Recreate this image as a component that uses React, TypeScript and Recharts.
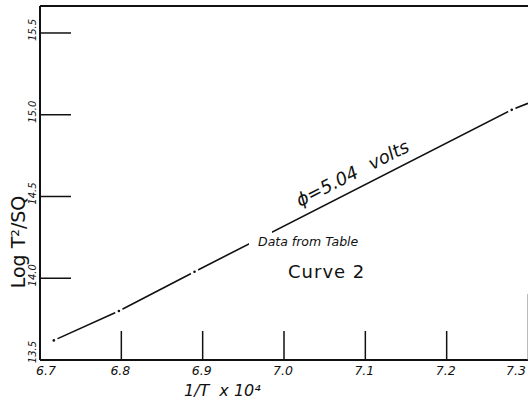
import React from "react";
import {ComposedChart, Line, ReferenceLine, XAxis, YAxis} from "recharts";

// readings (1/T x 10^4, log T^2/SQ)
const invT = [6.717, 6.797, 6.89, 7.28, 7.3];
const logVal = [13.62, 13.8, 14.04, 15.03, 15.07];
// last entry is only where the drawn line runs off the sheet
const isReading = [true, true, true, true, false];

const xTicks = [6.7, 6.8, 6.9, 7.0, 7.1, 7.2, 7.3];
const xTickLabels = ["6.7", "6.8", "6.9", "7.0", "7.1", "7.2", "7.3"];
const yTicks = [13.5, 14.0, 14.5, 15.0, 15.5];
const yTickLabels = ["13.5", "14.0", "14.5", "15.0", "15.5"];

const xDomain: [number, number] = [6.7, 7.3];
const yDomain: [number, number] = [13.5, 15.665];

const ink = "#111";
const font = "'DejaVu Sans', sans-serif";

const data = invT.map((x, i) => ({x, y: logVal[i], reading: isReading[i]}));

const XTick = (props: any) => {
  const {x, y, index} = props;
  const first = index === 0;
  const last = index === xTicks.length - 1;
  return <g>
    {!first && <line x1={x} y1={y} x2={x} y2={y - (last ? 66 : 29)} stroke={last ? "#777" : ink}
                     strokeWidth={last ? 1 : 1.5}/>}
    <text x={x + (first ? 6 : last ? -12 : -1)} y={y + 15} textAnchor="middle" fill={ink}
          fontFamily={font} fontStyle="italic" fontSize={12.5}>
      {xTickLabels[index]}
    </text>
  </g>
}

const YTick = (props: any) => {
  const {x, y, index} = props;
  const first = index === 0;
  const ty = first ? y - 8 : y - 3;
  return <g>
    {!first && <line x1={x} y1={y} x2={x + 31} y2={y} stroke={ink} strokeWidth={1.5}/>}
    <text x={x - 4} y={ty} textAnchor="middle" fill={ink} fontFamily={font} fontStyle="italic"
          fontSize={10} transform={`rotate(-90 ${x - 4} ${ty})`}>
      {yTickLabels[index]}
    </text>
  </g>
}

const ReadingDot = (props: any) => {
  const {cx, cy, payload} = props;
  if (!payload.reading) return <g/>;
  return <g>
    <circle cx={cx} cy={cy} r={4} fill="#fff"/>
    <circle cx={cx} cy={cy} r={1.3} fill={ink}/>
  </g>
}

// lettering on the sheet, laid over the chart
const Notes = () => {
  return <svg width={528} height={402} style={{position: "absolute", left: 0, top: 0, pointerEvents: "none"}}>
    <g fill={ink} fontFamily={font}>
      <rect x={249} y={228} width={23} height={18} fill="#fff"/>
      <text x={258} y={246} fontSize={12.5} fontStyle="italic">Data from Table</text>
      <text x={288} y={278} fontSize={18} letterSpacing={1}>Curve 2</text>
      <text x={300} y={207} fontSize={18} fontStyle="italic" transform="rotate(-27 300 207)">
        ϕ=5.04<tspan dx={14}>volts</tspan>
      </text>
      <text x={25} y={242} fontSize={19} textAnchor="middle" transform="rotate(-90 25 242)">
        Log T²/SQ
      </text>
      <text x={184} y={396} fontSize={16} fontStyle="italic">1/T<tspan dx={10}>x 10⁴</tspan></text>
    </g>
  </svg>
}

export default function App() {
  return (
    <div style={{position: "absolute", left: 0, top: 0, width: 528, height: 402, background: "#fff"}}>
      <ComposedChart width={528} height={402} data={data} margin={{top: 6, right: 0, left: 0, bottom: 0}}>
        <XAxis type="number" dataKey="x" domain={xDomain} ticks={xTicks} allowDataOverflow
               height={42} tickSize={0} tickMargin={0} tickLine={false}
               axisLine={{stroke: ink, strokeWidth: 2}} tick={<XTick/>} interval={0}/>
        <YAxis type="number" domain={yDomain} ticks={yTicks} allowDataOverflow width={40}
               tickSize={0} tickMargin={0} tickLine={false}
               axisLine={{stroke: ink, strokeWidth: 2}} tick={<YTick/>} interval={0}/>
        <ReferenceLine y={yDomain[1]} stroke={ink} strokeWidth={2}/>
        <Line type="linear" dataKey="y" stroke={ink} strokeWidth={1.6} dot={<ReadingDot/>}
              activeDot={false} isAnimationActive={false}/>
      </ComposedChart>
      <Notes/>
    </div>
  );
}
